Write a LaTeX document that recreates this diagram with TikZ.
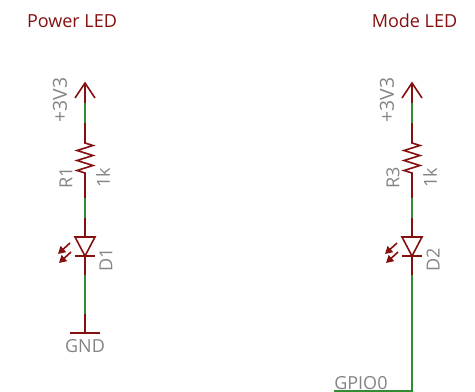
\documentclass[tikz,border=0pt]{standalone}
\usepackage{fontspec}
\setmainfont{Open Sans}
\usetikzlibrary{arrows.meta,calc}
\definecolor{sym}{RGB}{132,16,16}
\definecolor{net}{RGB}{50,140,50}
\definecolor{lbl}{RGB}{132,132,132}
\tikzset{
 pin/.style={draw=sym,line width=1.2pt,line cap=butt},
 sym/.style={draw=sym,line width=1.2pt,line join=miter},
 wire/.style={draw=net,line width=1.1pt},
 glow/.style={draw=sym,line width=1.2pt,-{Triangle[length=5.5pt,width=6pt,sep=0pt]}},
 title/.style={text=sym,font=\fontsize{13.5}{16}\selectfont,inner sep=0pt},
 tag/.style={text=lbl,font=\fontsize{13.5}{16}\selectfont,inner sep=0pt},
}
\def\ledpart#1#2#3#4{%
 \coordinate (#1tip) at (#2,83);
 \coordinate (#1a) at (#2,103);
 \coordinate (#1b) at (#2,123);
 \coordinate (#1c) at (#2,142);
 \coordinate (#1d) at (#2,179);
 \coordinate (#1e) at (#2,198);
 \coordinate (#1f) at (#2,218);
 \coordinate (#1g) at (#2,237);
 \coordinate (#1h) at (#2,256);
 \coordinate (#1i) at (#2,275);
 \draw[wire] (#1a) -- (#1b);
 \draw[wire] (#1e) -- (#1f);
 \draw[sym] ($(#1tip)+(-10,15)$) -- (#1tip) -- ($(#1tip)+(10,15)$);
 \draw[pin] (#1tip) -- (#1a);
 \draw[pin] (#1b) -- (#1c);
 \draw[sym] (#1c) -- ++(0,1) -- ++(8,2.5) -- ++(-16,5) -- ++(16,5) -- ++(-16,5) -- ++(16,5) -- ++(-16,5) -- ++(8,2.5) -- (#1d);
 \draw[pin] (#1d) -- (#1e);
 \draw[pin] (#1f) -- (#1g);
 \draw[sym] ($(#1g)+(-10,0)$) -- ($(#1g)+(10,0)$) -- (#1h) -- cycle;
 \draw[sym] ($(#1h)+(-10,0)$) -- ($(#1h)+(10,0)$);
 \draw[pin] (#1h) -- (#1i);
 \draw[glow] ($(#1h)+(-15,-13)$) -- ($(#1h)+(-27,-2)$);
 \draw[glow] ($(#1h)+(-14,-4)$) -- ($(#1h)+(-26,7)$);
 \node[tag,rotate=90,font=\fontsize{14.5}{16}\selectfont] (#1v) at ($(#1tip)+(-25,17)$) {+3V3};
 \node[tag,rotate=90] (#1r) at ($(#1tip)+(-19,95)$) {#3};
 \node[tag,rotate=90] (#1k) at ($(#1tip)+(18,95)$) {1k};
 \node[tag,rotate=90] (#1l) at ($(#1tip)+(21,177)$) {#4};
}
\begin{document}
\begin{tikzpicture}[x=0.75pt,y=-0.75pt]
\path[use as bounding box] (0,0) rectangle (475,392);
\node[title] (t1) at (72,21) {Power LED};
\node[title] (t2) at (414.5,21) {Mode LED};
\ledpart{L}{85}{R1}{D1}
\ledpart{M}{412}{R3}{D2}
\coordinate (Lj) at (85,314);
\coordinate (Lg) at (85,333);
\draw[wire] (Li) -- (Lj);
\draw[pin] (Lj) -- (Lg);
\draw[sym] ($(Lg)+(-15,0)$) -- ($(Lg)+(15,0)$);
\node[tag] (gnd) at (85,346) {GND};
\coordinate (Mn) at (412,391);
\coordinate (Mo) at (334,391);
\draw[wire] (Mi) -- (Mn) -- (Mo);
\node[tag,anchor=base west] (gp) at (334,389) {GPIO0};
\end{tikzpicture}
\end{document}
